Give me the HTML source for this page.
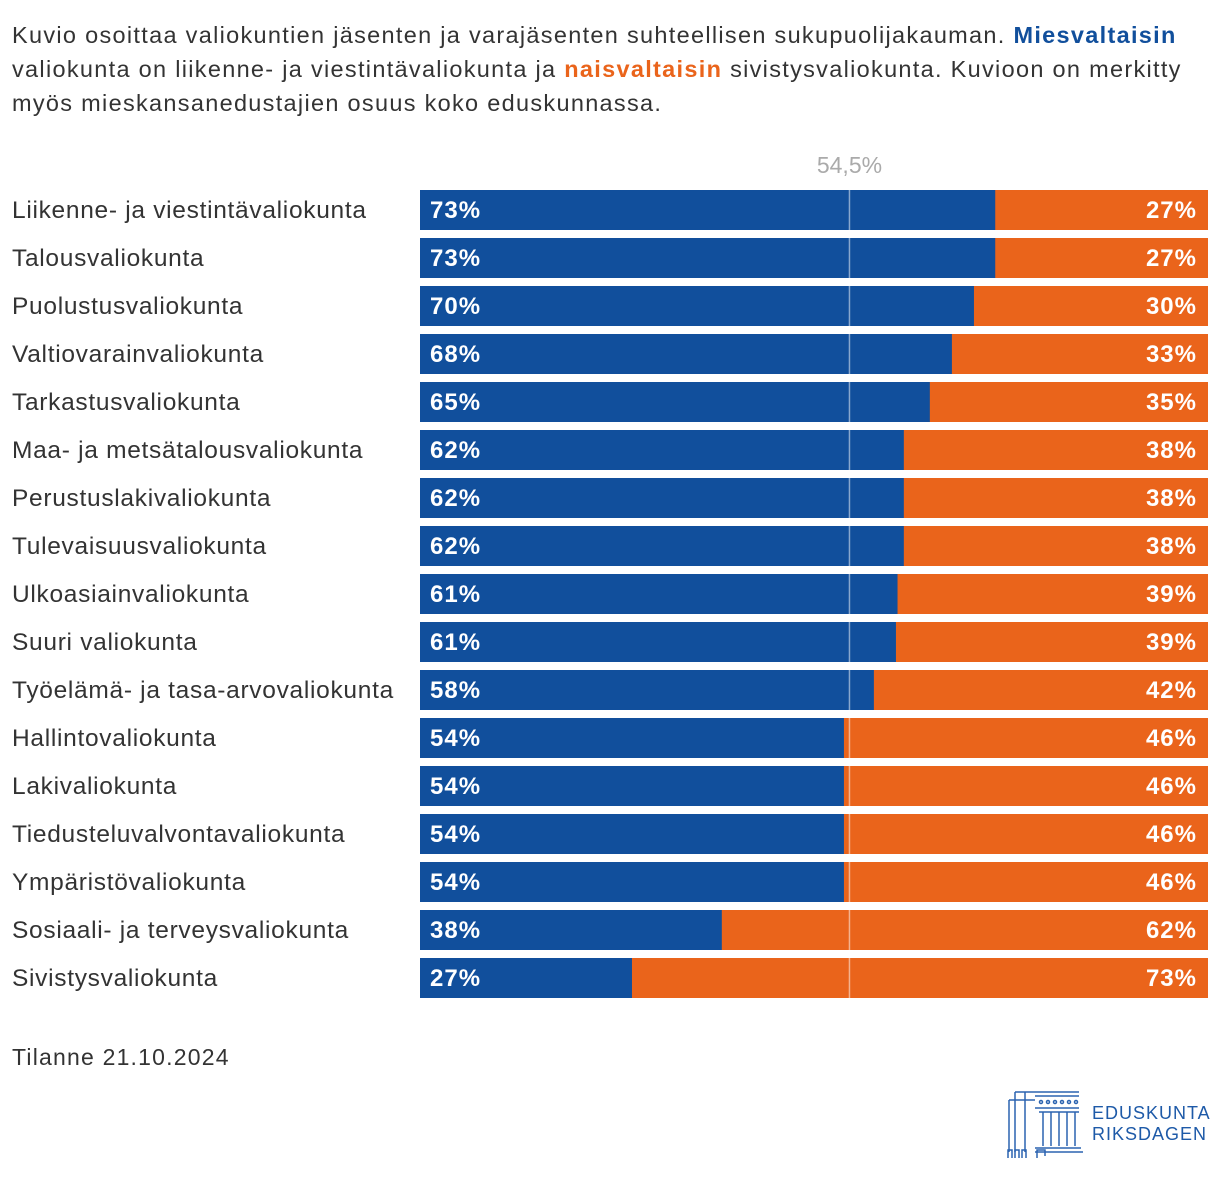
<!DOCTYPE html>
<html><head><meta charset="utf-8"><style>
body{margin:0;background:#fff;width:1220px;height:1180px;overflow:hidden;font-family:"Liberation Sans",sans-serif;}
#intro{position:absolute;left:12px;top:18px;width:1210px;font-size:23.5px;line-height:34px;color:#333;letter-spacing:1.3px;white-space:nowrap}
.mb{color:#114f9c;font-weight:bold}.nb{color:#ea641b;font-weight:bold}
</style></head><body>
<div id="intro">Kuvio osoittaa valiokuntien jäsenten ja varajäsenten suhteellisen sukupuolijakauman. <span class="mb">Miesvaltaisin</span><br>valiokunta on liikenne- ja viestintävaliokunta ja <span class="nb">naisvaltaisin</span> sivistysvaliokunta. Kuvioon on merkitty<br>myös mieskansanedustajien osuus koko eduskunnassa.</div>
<svg id="chart" width="1220" height="1180" style="position:absolute;left:0;top:0"></svg>
<script>
const categories=["Liikenne- ja viestintävaliokunta","Talousvaliokunta","Puolustusvaliokunta","Valtiovarainvaliokunta","Tarkastusvaliokunta","Maa- ja metsätalousvaliokunta","Perustuslakivaliokunta","Tulevaisuusvaliokunta","Ulkoasiainvaliokunta","Suuri valiokunta","Työelämä- ja tasa-arvovaliokunta","Hallintovaliokunta","Lakivaliokunta","Tiedusteluvalvontavaliokunta","Ympäristövaliokunta","Sosiaali- ja terveysvaliokunta","Sivistysvaliokunta"];
const maleShare=[73,73,70.3,67.5,64.7,61.4,61.4,61.4,60.6,60.4,57.6,53.8,53.8,53.8,53.8,38.3,26.9];
const maleLabels=["73%","73%","70%","68%","65%","62%","62%","62%","61%","61%","58%","54%","54%","54%","54%","38%","27%"];
const femaleLabels=["27%","27%","30%","33%","35%","38%","38%","38%","39%","39%","42%","46%","46%","46%","46%","62%","73%"];
const refValue=54.5;
const refLabel="54,5%";
const NS="http://www.w3.org/2000/svg";
const svg=document.getElementById('chart');
const x0=420,x1=1208;
const xs=v=>x0+(x1-x0)*v/100;
const ys=i=>190+i*48;
const bh=40;
function mk(tag,attrs,parent){const e=document.createElementNS(NS,tag);for(const k in attrs)e.setAttribute(k,attrs[k]);(parent||svg).appendChild(e);return e;}
categories.forEach((c,i)=>{
  const y=ys(i);
  const g=mk('g',{});
  
  
  const lbl=mk('text',{x:12,y:y+28,'font-size':24.5,'letter-spacing':0.7,fill:'#333'},g);lbl.textContent=c;
  
  
  const f=mk('rect',{x:x0,y:y,width:x1-x0,height:bh,fill:'#ea641b'},g);
  
  
  const m=mk('rect',{x:x0,y:y,width:xs(maleShare[i])-x0,height:bh,fill:'#114f9c'},g);
  
  
  const ml=mk('text',{x:x0+10,y:y+28,'font-size':24,'letter-spacing':1,'font-weight':'bold',fill:'#fff'},g);ml.textContent=maleLabels[i];
  
  
  const fl=mk('text',{x:x1-11,y:y+28,'font-size':24,'letter-spacing':1,'font-weight':'bold',fill:'#fff','text-anchor':'end'},g);fl.textContent=femaleLabels[i];
  
  
});
const rl=mk('line',{x1:xs(refValue),x2:xs(refValue),y1:186,y2:ys(categories.length-1)+bh,stroke:'#fff','stroke-opacity':0.5,'stroke-width':1.5});


const rt=mk('text',{x:xs(refValue),y:173,'font-size':23,fill:'#aaa','text-anchor':'middle'});rt.textContent=refLabel;


const ft=mk('text',{x:12,y:1065,'font-size':23,'letter-spacing':1.2,fill:'#333'});ft.textContent="Tilanne 21.10.2024";


</script>
<svg width="80" height="72" style="position:absolute;left:1005px;top:1086px" fill="none" stroke="#2b63b0" stroke-width="1.5">
<path d="M10 6H74M10 6V66M20 6V66M4 14H30M4 14V66M30 10H74M30 22H74M30 62H76M30 66H78"/>
<circle cx="36" cy="16" r="1.5"/><circle cx="43" cy="16" r="1.5"/><circle cx="50" cy="16" r="1.5"/><circle cx="57" cy="16" r="1.5"/><circle cx="64" cy="16" r="1.5"/><circle cx="71" cy="16" r="1.5"/>
<path d="M38 26V60M46 26V60M54 26V60M62 26V60M70 26V60M34 26H74"/>
<path d="M3 72V64h4v8M10 72V64h4v8M17 72V64h4v8M32 72V64h8v6"/>
</svg>
<div style="position:absolute;left:1092px;top:1103px;font-size:18px;line-height:21px;color:#1e5aa8;letter-spacing:1px">EDUSKUNTA<br>RIKSDAGEN</div>
</body></html>
